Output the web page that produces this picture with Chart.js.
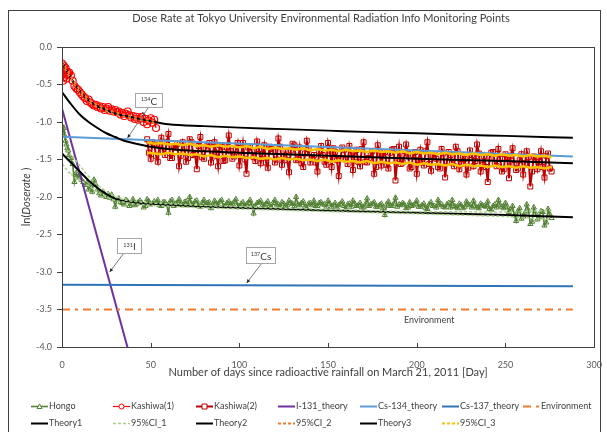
<!DOCTYPE html>
<html lang="en">
<head>
  <meta charset="UTF-8">
  <title>Dose Rate at Tokyo University Environmental Radiation Info Monitoring Points</title>
  <script src="https://cdn.jsdelivr.net/npm/chart.js"></script>
  <style>
    html, body { margin: 0; padding: 0; background: #fff; }
    canvas { display: block; }
  </style>
</head>
<body>
  <canvas id="doseChart" width="607" height="432"></canvas>

  <script>
    // ---- values (x = days since 21 March 2011, y = ln(dose rate)) ----
    const xTicks = [0, 50, 100, 150, 200, 250, 300];
    const yTicks = [-4.0, -3.5, -3.0, -2.5, -2.0, -1.5, -1.0, -0.5, 0.0];

    // Hongo: dense first month, then one reading a day
    const hongoEarlyDays = [0, 0.5, 1, 1.5, 2, 2.5, 3, 3.5, 4, 5, 6, 7, 8, 9, 10, 11, 12, 13, 14, 15,
      16, 17, 18, 19, 20, 21, 22, 23, 24, 25, 26, 27, 28, 29, 30, 31];
    const hongoEarlyVals = [-1.05, -1.12, -1.08, -1.18, -1.25, -1.30, -1.35, -1.38, -1.44, -1.48, -1.56, -1.80,
      -1.68, -1.74, -1.70, -1.77, -1.80, -1.84, -1.81, -1.90, -1.86, -1.93, -1.77, -1.83, -1.90, -1.95,
      -1.98, -1.93, -1.96, -2.00, -1.96, -2.01, -1.97, -2.03, -2.13, -2.04];
    const hongoLateStart = 32, hongoLateStep = 1;
    const hongoLateVals = [
      -2.02, -2.07, -2.08, -2.10, -2.04, -2.06, -2.12, -2.09, -2.03, -2.11, -2.09, -2.07, -2.05, -2.08, -2.14, -2.12, -2.03, -2.06, -2.10, -2.09,
      -2.06, -2.08, -2.04, -2.11, -2.12, -2.07, -2.07, -2.10, -2.21, -2.06, -2.04, -2.12, -2.09, -2.08, -2.03, -2.09, -2.11, -2.07, -2.06, -2.11,
      -2.00, -2.09, -2.10, -2.06, -2.05, -2.12, -2.13, -2.08, -2.04, -2.10, -2.08, -2.07, -2.15, -2.11, -2.05, -2.09, -2.10, -2.06, -2.04, -2.12,
      -2.12, -2.08, -2.06, -2.10, -2.09, -2.07, -2.03, -2.11, -2.13, -2.09, -2.07, -2.13, -2.10, -2.08, -2.04, -2.10, -2.22, -2.12, -2.08, -2.07,
      -2.05, -2.11, -2.11, -2.09, -2.06, -2.12, -2.14, -2.08, -2.04, -2.10, -2.10, -2.13, -2.07, -2.09, -2.12, -2.11, -2.05, -2.08, -2.09, -2.12,
      -2.00, -2.10, -2.11, -2.08, -2.06, -2.13, -2.15, -2.09, -2.08, -2.11, -2.05, -2.12, -2.12, -2.08, -2.07, -2.10, -2.10, -2.13, -2.05, -2.09,
      -2.13, -2.11, -2.08, -2.14, -2.11, -2.09, -2.06, -2.12, -2.16, -2.10, -2.09, -2.13, -2.05, -2.09, -2.12, -2.11, -2.08, -2.14, -2.14, -2.10,
      -2.02, -2.12, -2.10, -2.09, -2.07, -2.13, -2.13, -2.11, -2.09, -2.15, -2.24, -2.10, -2.06, -2.12, -2.12, -2.09, -2.01, -2.13, -2.10, -2.11,
      -2.08, -2.10, -2.15, -2.14, -2.07, -2.12, -2.11, -2.09, -2.05, -2.13, -2.13, -2.11, -2.09, -2.15, -2.16, -2.10, -2.07, -2.12, -2.12, -2.14,
      -2.04, -2.11, -2.10, -2.13, -2.14, -2.10, -2.08, -2.14, -2.04, -2.12, -2.13, -2.15, -2.09, -2.11, -2.15, -2.13, -2.06, -2.10, -2.11, -2.14,
      -2.05, -2.12, -2.14, -2.15, -2.09, -2.11, -2.12, -2.13, -2.06, -2.16, -2.17, -2.12, -2.10, -2.14, -2.04, -2.11, -2.13, -2.15, -2.08, -2.13,
      -2.20, -2.17, -2.12, -2.24, -2.32, -2.19, -2.15, -2.29, -2.26, -2.21, -2.10, -2.18, -2.36, -2.33, -2.14, -2.22, -2.30, -2.27, -2.19, -2.20,
      -2.38, -2.34, -2.16, -2.23, -2.28];

    const kashiwa1Days = [0, 0.3, 0.6, 1, 1.3, 1.6, 2, 2.5, 3, 3.5, 4, 5, 6, 7, 8, 9, 10, 11, 12, 13, 14, 15,
      16, 17, 18, 19, 20, 21, 22, 23, 24, 25, 26, 27, 28, 29, 30, 31, 32, 33, 34, 35, 36, 37, 38, 39, 40,
      41, 42, 43, 44, 45, 46, 47, 48, 49, 50, 51, 52, 53];
    const kashiwa1Vals = [-0.22, -0.35, -0.45, -0.25, -0.40, -0.30, -0.28, -0.42, -0.33, -0.36, -0.34, -0.38,
      -0.45, -0.52, -0.55, -0.57, -0.60, -0.63, -0.66, -0.68, -0.72, -0.70, -0.74, -0.76, -0.78, -0.77,
      -0.80, -0.79, -0.82, -0.80, -0.84, -0.82, -0.80, -0.85, -0.83, -0.86, -0.84, -0.87, -0.86, -0.90,
      -0.88, -0.92, -0.89, -0.86, -0.91, -0.94, -0.92, -0.96, -0.93, -0.97, -0.95, -0.93, -1.00, -0.96,
      -1.03, -0.98, -0.95, -1.01, -0.97, -1.08];

    // Kashiwa(2): one reading a day from day 48
    const kashiwa2Start = 48, kashiwa2Step = 1;
    const kashiwa2Vals = [
      -1.23, -1.41, -1.49, -1.27, -1.30, -1.45, -1.53, -1.30, -1.21, -1.39, -1.44, -1.27, -1.16, -1.48, -1.48, -1.32, -1.34, -1.29, -1.59, -1.45,
      -1.27, -1.35, -1.53, -1.48, -1.23, -1.27, -1.44, -1.43, -1.63, -1.32, -1.20, -1.47, -1.49, -1.36, -1.31, -1.28, -1.54, -1.46, -1.27, -1.41,
      -1.59, -1.31, -1.33, -1.52, -1.51, -1.34, -1.18, -1.39, -1.49, -1.46, -1.37, -1.28, -1.58, -1.45, -1.28, -1.50, -1.69, -1.34, -1.33, -1.39,
      -1.47, -1.52, -1.26, -1.36, -1.55, -1.43, -1.31, -1.54, -1.61, -1.33, -1.36, -1.39, -1.54, -1.50, -1.22, -1.33, -1.57, -1.46, -1.39, -1.51,
      -1.67, -1.38, -1.29, -1.31, -1.51, -1.50, -1.34, -1.55, -1.60, -1.42, -1.25, -1.36, -1.54, -1.48, -1.44, -1.54, -1.66, -1.39, -1.32, -1.44,
      -1.53, -1.57, -1.28, -1.38, -1.60, -1.35, -1.40, -1.51, -1.72, -1.48, -1.34, -1.37, -1.50, -1.56, -1.32, -1.42, -1.64, -1.43, -1.37, -1.53,
      -1.59, -1.36, -1.27, -1.53, -1.54, -1.48, -1.44, -1.39, -1.69, -1.60, -1.31, -1.42, -1.58, -1.45, -1.40, -1.57, -1.62, -1.41, -1.37, -1.36,
      -1.78, -1.52, -1.33, -1.56, -1.54, -1.45, -1.30, -1.42, -1.62, -1.60, -1.44, -1.40, -1.69, -1.51, -1.37, -1.54, -1.58, -1.39, -1.27, -1.56,
      -1.65, -1.45, -1.43, -1.49, -1.60, -1.62, -1.36, -1.42, -1.74, -1.53, -1.40, -1.44, -1.55, -1.59, -1.33, -1.39, -1.63, -1.56, -1.47, -1.49,
      -1.70, -1.61, -1.38, -1.44, -1.59, -1.52, -1.30, -1.42, -1.66, -1.57, -1.46, -1.60, -1.80, -1.48, -1.41, -1.40, -1.55, -1.59, -1.36, -1.49,
      -1.66, -1.63, -1.43, -1.47, -1.75, -1.45, -1.35, -1.57, -1.64, -1.62, -1.51, -1.43, -1.70, -1.55, -1.39, -1.47, -1.86, -1.66, -1.46, -1.50,
      -1.63, -1.53, -1.39, -1.60, -1.74, -1.45, -1.42, -1.62, -1.66];

    const i131Days = [0, 40];
    const i131Vals = [-0.82, -4.27];
    const cs134Days = [0, 288];
    const cs134Vals = [-1.195, -1.46];
    const cs137Days = [0, 288];
    const cs137Vals = [-3.17, -3.19];
    const envDays = [0, 288];
    const envVals = [-3.5, -3.5];

    const theory1Days = [0, 5, 10, 15, 20, 25, 30, 35, 40, 50, 75, 100, 150, 200, 250, 288];
    const theory1Vals = [-1.42, -1.54, -1.66, -1.78, -1.88, -1.96, -2.02, -2.05, -2.07, -2.09, -2.125, -2.145,
      -2.18, -2.21, -2.24, -2.27];
    const ci1Days = [0, 1, 2, 3, 4, 5, 6, 7, 8, 9, 10, 12, 14, 16, 18, 20, 22, 24, 26, 28, 30, 35, 40, 50,
      75, 100, 150, 200, 250, 276];
    const ci1Upper = [-1.28, -1.33, -1.32, -1.38, -1.40, -1.45, -1.44, -1.50, -1.52, -1.56, -1.58, -1.64,
      -1.70, -1.75, -1.80, -1.84, -1.88, -1.91, -1.94, -1.97, -2.00, -2.04, -2.06, -2.08, -2.11, -2.13,
      -2.165, -2.195, -2.20, -2.18];
    const ci1Lower = [-1.56, -1.58, -1.62, -1.64, -1.68, -1.67, -1.72, -1.73, -1.76, -1.75, -1.78, -1.80,
      -1.84, -1.87, -1.90, -1.93, -1.96, -1.98, -2.01, -2.03, -2.05, -2.07, -2.09, -2.11, -2.14, -2.16,
      -2.195, -2.225, -2.26, -2.30];

    const theory2Days = [0, 2, 4, 6, 8, 10, 12, 14, 16, 18, 20, 24, 28, 32, 36, 40, 44, 48, 52, 60, 80, 100,
      125, 150, 175, 200, 225, 250, 288];
    const theory2Vals = [-0.20, -0.29, -0.37, -0.45, -0.52, -0.58, -0.64, -0.69, -0.73, -0.76, -0.79, -0.83,
      -0.87, -0.90, -0.92, -0.94, -0.96, -0.98, -1.00, -1.03, -1.055, -1.075, -1.095, -1.115, -1.135,
      -1.15, -1.17, -1.185, -1.21];
    const ci2Days = [0, 2, 4, 6, 8, 10, 12, 14, 16, 18, 20, 22, 24, 26, 28, 30, 32, 34, 36, 38, 40, 42, 44,
      46, 48, 50, 52];
    const ci2Upper = [-0.185, -0.275, -0.355, -0.435, -0.505, -0.565, -0.625, -0.675, -0.715, -0.745, -0.775,
      -0.795, -0.815, -0.835, -0.855, -0.865, -0.885, -0.895, -0.905, -0.915, -0.925, -0.935, -0.945,
      -0.955, -0.965, -0.975, -0.985];
    const ci2Lower = [-0.215, -0.305, -0.385, -0.465, -0.535, -0.595, -0.655, -0.705, -0.745, -0.775, -0.805,
      -0.825, -0.845, -0.865, -0.885, -0.895, -0.915, -0.925, -0.935, -0.945, -0.955, -0.965, -0.975,
      -0.985, -0.995, -1.005, -1.015];

    const theory3Days = [0, 5, 10, 15, 20, 25, 30, 35, 40, 50, 60, 80, 100, 150, 200, 250, 288];
    const theory3Vals = [-0.60, -0.76, -0.90, -1.00, -1.08, -1.15, -1.20, -1.25, -1.28, -1.33, -1.36, -1.39,
      -1.41, -1.45, -1.49, -1.52, -1.55];
    const ci3Start = 48, ci3Step = 4;
    const ci3Upper = [-1.27, -1.29, -1.28, -1.30, -1.29, -1.31, -1.29, -1.32, -1.31, -1.33, -1.31, -1.33,
      -1.32, -1.34, -1.32, -1.35, -1.33, -1.36, -1.34, -1.36, -1.35, -1.37, -1.35, -1.38, -1.36, -1.38,
      -1.37, -1.39, -1.37, -1.39, -1.38, -1.40, -1.38, -1.40, -1.39, -1.41, -1.39, -1.42, -1.40, -1.42,
      -1.41, -1.43, -1.41, -1.43, -1.42, -1.44, -1.42, -1.44, -1.43, -1.45, -1.43, -1.45, -1.44, -1.46,
      -1.44, -1.46, -1.45, -1.47];
    const ci3Lower = [-1.41, -1.42, -1.43, -1.41, -1.43, -1.42, -1.44, -1.43, -1.46, -1.44, -1.47, -1.45,
      -1.47, -1.46, -1.48, -1.47, -1.49, -1.48, -1.50, -1.48, -1.50, -1.49, -1.51, -1.50, -1.52, -1.50,
      -1.53, -1.51, -1.53, -1.52, -1.54, -1.52, -1.55, -1.53, -1.55, -1.54, -1.56, -1.54, -1.57, -1.55,
      -1.57, -1.56, -1.58, -1.56, -1.59, -1.57, -1.59, -1.58, -1.60, -1.58, -1.60, -1.59, -1.61, -1.59,
      -1.61, -1.60, -1.62, -1.60];

    // text callouts: box top-left in data units, leader tip in data units
    const callouts = [
      { sup: '134', main: 'C', day: 41.4, ln: -0.613, w: 27, h: 14, anchor: 0.48, tipDay: 36.9, tipLn: -1.213, spill: 's' },
      { sup: '131', main: 'I', day: 30.8, ln: -2.547, w: 24, h: 15, anchor: 0.25, tipDay: 26.9, tipLn: -3.0 },
      { sup: '137', main: 'Cs', day: 103.6, ln: -2.667, w: 29, h: 16, anchor: 0.52, tipDay: 104.1, tipLn: -3.147 }
    ];
    const envLabel = { text: 'Environment', day: 207, ln: -3.64 };

    // ---- helpers ----
    const FONT = 'Lato, "Open Sans", sans-serif';
    const TEXT = '#404040';
    const HOLLOW = 'rgba(255,255,255,0)';

    function pts(days, vals) {
      return vals.map((v, i) => ({ x: days[i], y: v }));
    }
    function gridDays(start, step, n) {
      return Array.from({ length: n }, (_, i) => start + i * step);
    }

    const hongoDays = hongoEarlyDays.concat(gridDays(hongoLateStart, hongoLateStep, hongoLateVals.length));
    const hongoVals = hongoEarlyVals.concat(hongoLateVals);
    const kashiwa2Days = gridDays(kashiwa2Start, kashiwa2Step, kashiwa2Vals.length);
    const ci3Days = gridDays(ci3Start, ci3Step, ci3Upper.length);

    function lineSet(label, days, vals, color, width, extra) {
      return Object.assign({
        label: label,
        data: pts(days, vals),
        borderColor: color,
        backgroundColor: color,
        borderWidth: width,
        pointRadius: 0,
        tension: 0,
        inLegend: true
      }, extra || {});
    }
    const smooth = { cubicInterpolationMode: 'monotone' };

    const datasets = [
      lineSet('Hongo', hongoDays, hongoVals, '#548235', 1.6, {
        pointStyle: 'triangle', pointRadius: 3, pointBorderWidth: 1, pointBackgroundColor: HOLLOW
      }),
      lineSet('Kashiwa(1)', kashiwa1Days, kashiwa1Vals, '#ff0000', 1.2, {
        pointStyle: 'circle', pointRadius: 3.5, pointBorderWidth: 1.2, pointBackgroundColor: HOLLOW
      }),
      lineSet('Kashiwa(2)', kashiwa2Days, kashiwa2Vals, '#c00000', 2, {
        pointStyle: 'rect', pointRadius: 3.5, pointBorderWidth: 1, pointBackgroundColor: HOLLOW
      }),
      lineSet('I-131_theory', i131Days, i131Vals, '#7030a0', 2),
      lineSet('Cs-134_theory', cs134Days, cs134Vals, '#5b9bd5', 2),
      lineSet('Cs-137_theory', cs137Days, cs137Vals, '#2e75b6', 2),
      lineSet('Environment', envDays, envVals, '#ed7d31', 2, { borderDash: [8, 5, 3, 5] }),
      lineSet('Theory1', theory1Days, theory1Vals, '#000000', 2, smooth),
      lineSet('95%CI_1', ci1Days, ci1Upper, '#a9d18e', 1.5, { borderDash: [3, 2], legendDash: [3, 2] }),
      lineSet('95%CI_1 low', ci1Days, ci1Lower, '#a9d18e', 1.5, { borderDash: [3, 2], inLegend: false }),
      lineSet('Theory2', theory2Days, theory2Vals, '#000000', 2, smooth),
      lineSet('95%CI_2', ci2Days, ci2Upper, '#ed7d31', 2, { borderDash: [3, 3], legendDash: [3, 2] }),
      lineSet('95%CI_2 low', ci2Days, ci2Lower, '#ed7d31', 2, { borderDash: [3, 3], inLegend: false }),
      lineSet('Theory3', theory3Days, theory3Vals, '#000000', 2, smooth),
      lineSet('95%CI_3', ci3Days, ci3Upper, '#ffc000', 2.5, { legendDash: [3, 2] }),
      lineSet('95%CI_3 low', ci3Days, ci3Lower, '#ffc000', 2.5, { inLegend: false })
    ];
    // later series sit on top, as in the spreadsheet original
    datasets.forEach((d, i) => { d.order = datasets.length - i; });

    // ---- extra drawing: frame, plot box, inner x ticks, y title, callouts, legend ----
    const decor = {
      id: 'decor',
      afterLayout(chart) {
        // centre the title a little right of the canvas middle, like the original
        chart.titleBlock.left = 44;
      },
      beforeDraw(chart) {
        const ctx = chart.ctx;
        ctx.save();
        ctx.fillStyle = '#fff';
        ctx.fillRect(0, 0, chart.width, chart.height);
        ctx.strokeStyle = '#404040';
        ctx.lineWidth = 1;
        ctx.strokeRect(8.5, 10.5, 592, 460);
        ctx.restore();
      },
      afterDraw(chart) {
        const { ctx, chartArea: a, scales: { x, y } } = chart;
        ctx.save();

        // plot box
        ctx.strokeStyle = '#404040';
        ctx.lineWidth = 1;
        ctx.strokeRect(Math.round(a.left) + 0.5, Math.round(a.top) + 0.5,
          Math.round(a.right - a.left), Math.round(a.bottom - a.top));

        // x tick marks pointing into the plot
        ctx.beginPath();
        xTicks.forEach(t => {
          const px = Math.round(x.getPixelForValue(t)) + 0.5;
          ctx.moveTo(px, a.bottom);
          ctx.lineTo(px, a.bottom - 4);
        });
        ctx.stroke();

        // y axis title: ln(Doserate ) with italic Doserate
        const parts = [
          { t: 'ln(', f: '11px ' + FONT },
          { t: 'Doserate', f: 'italic 11px ' + FONT },
          { t: ' )', f: '11px ' + FONT }
        ];
        let total = 0;
        parts.forEach(p => { ctx.font = p.f; p.w = ctx.measureText(p.t).width; total += p.w; });
        ctx.translate(26, (a.top + a.bottom) / 2);
        ctx.rotate(-Math.PI / 2);
        ctx.fillStyle = TEXT;
        ctx.textBaseline = 'middle';
        ctx.textAlign = 'left';
        let cx = -total / 2;
        parts.forEach(p => { ctx.font = p.f; ctx.fillText(p.t, cx, 0); cx += p.w; });
        ctx.setTransform(1, 0, 0, 1, 0, 0);

        // callouts
        callouts.forEach(c => {
          const bx = Math.round(x.getPixelForValue(c.day)) + 0.5;
          const by = Math.round(y.getPixelForValue(c.ln)) + 0.5;
          const tx = x.getPixelForValue(c.tipDay), ty = y.getPixelForValue(c.tipLn);
          const sx = bx + c.w * c.anchor, sy = by + c.h;
          ctx.strokeStyle = '#595959';
          ctx.lineWidth = 0.8;
          ctx.beginPath();
          ctx.moveTo(sx, sy);
          ctx.lineTo(tx, ty);
          ctx.stroke();
          const ang = Math.atan2(ty - sy, tx - sx);
          ctx.fillStyle = '#262626';
          ctx.beginPath();
          ctx.moveTo(tx, ty);
          ctx.lineTo(tx - 4 * Math.cos(ang - 0.45), ty - 4 * Math.sin(ang - 0.45));
          ctx.lineTo(tx - 4 * Math.cos(ang + 0.45), ty - 4 * Math.sin(ang + 0.45));
          ctx.closePath();
          ctx.fill();

          ctx.fillStyle = '#fff';
          ctx.fillRect(bx, by, c.w, c.h);
          ctx.strokeStyle = '#a6a6a6';
          ctx.lineWidth = 1;
          ctx.strokeRect(bx, by, c.w, c.h);

          ctx.font = '5.5px ' + FONT;
          const ws = ctx.measureText(c.sup).width;
          ctx.font = '10px ' + FONT;
          const wm = ctx.measureText(c.main).width;
          const tx0 = bx + (c.w - ws - wm) / 2;
          ctx.fillStyle = TEXT;
          ctx.textAlign = 'left';
          ctx.textBaseline = 'alphabetic';
          ctx.font = '5.5px ' + FONT;
          ctx.fillText(c.sup, tx0, by + c.h / 2 + 0.5);
          ctx.font = '10px ' + FONT;
          ctx.fillText(c.main, tx0 + ws, by + c.h / 2 + 4);
          if (c.spill) {
            ctx.font = '8px ' + FONT;
            ctx.fillText(c.spill, bx + c.w * 0.22, by + c.h + 8);
          }
        });

        // environment label
        ctx.font = '9px ' + FONT;
        ctx.fillStyle = TEXT;
        ctx.textAlign = 'center';
        ctx.textBaseline = 'middle';
        ctx.fillText(envLabel.text, x.getPixelForValue(envLabel.day), y.getPixelForValue(envLabel.ln));

        // legend: seven columns, two rows
        const cols = [31, 113, 196, 278, 360, 442, 523];
        const rows = [406, 423];
        const items = chart.data.datasets.filter(d => d.inLegend);
        items.forEach((d, i) => {
          const lx = cols[i % 7], ly = rows[Math.floor(i / 7)] + 0.5;
          ctx.strokeStyle = d.borderColor;
          ctx.lineWidth = Math.min(d.borderWidth, 2);
          ctx.setLineDash(d.legendDash || d.borderDash || []);
          ctx.beginPath();
          ctx.moveTo(lx, ly);
          ctx.lineTo(lx + 17, ly);
          ctx.stroke();
          ctx.setLineDash([]);
          if (d.pointRadius > 0) {
            ctx.lineWidth = 1;
            ctx.fillStyle = '#fff';
            const px = lx + 8.5, r = 2.5;
            ctx.beginPath();
            if (d.pointStyle === 'triangle') {
              ctx.moveTo(px, ly - r); ctx.lineTo(px + r, ly + r * 0.8); ctx.lineTo(px - r, ly + r * 0.8); ctx.closePath();
            } else if (d.pointStyle === 'rect') {
              ctx.rect(px - r, ly - r, 2 * r, 2 * r);
            } else {
              ctx.arc(px, ly, r, 0, Math.PI * 2);
            }
            ctx.fill();
            ctx.stroke();
          }
          ctx.font = '9px ' + FONT;
          ctx.fillStyle = TEXT;
          ctx.textAlign = 'left';
          ctx.textBaseline = 'middle';
          ctx.fillText(d.label, lx + 18, ly);
        });
        ctx.restore();
      }
    };

    new Chart(document.getElementById('doseChart'), {
      type: 'line',
      data: { datasets: datasets },
      plugins: [decor],
      options: {
        responsive: false,
        animation: false,
        events: [],
        layout: { padding: { left: 14, right: 9, top: 0, bottom: 45 } },
        font: { family: FONT },
        color: TEXT,
        plugins: {
          legend: { display: false },
          tooltip: { enabled: false },
          title: {
            display: true,
            text: 'Dose Rate at Tokyo University Environmental Radiation Info Monitoring Points',
            color: TEXT,
            font: { family: FONT, size: 11, weight: 'normal' },
            padding: { top: 12, bottom: 21.8 }
          }
        },
        scales: {
          x: {
            type: 'linear',
            min: 0,
            max: 300,
            afterBuildTicks: s => { s.ticks = xTicks.map(v => ({ value: v })); },
            afterFit: s => { s.height = 40; },
            grid: { display: false },
            border: { display: false },
            ticks: { color: '#595959', font: { family: FONT, size: 9 }, padding: 5, maxRotation: 0 },
            title: {
              display: true,
              text: 'Number of days since radioactive rainfall on March 21, 2011 [Day]',
              color: TEXT,
              font: { family: FONT, size: 11 },
              padding: { top: 0, bottom: 8.4 }
            }
          },
          y: {
            type: 'linear',
            min: -4,
            max: 0,
            afterBuildTicks: s => { s.ticks = yTicks.map(v => ({ value: v })); },
            afterFit: s => { s.width = 48; },
            grid: { drawOnChartArea: false, drawTicks: true, tickLength: 5, color: '#404040' },
            border: { display: false },
            ticks: {
              color: '#595959',
              font: { family: FONT, size: 9 },
              padding: 5,
              callback: v => v.toFixed(1)
            }
          }
        }
      }
    });
  </script>
</body>
</html>
